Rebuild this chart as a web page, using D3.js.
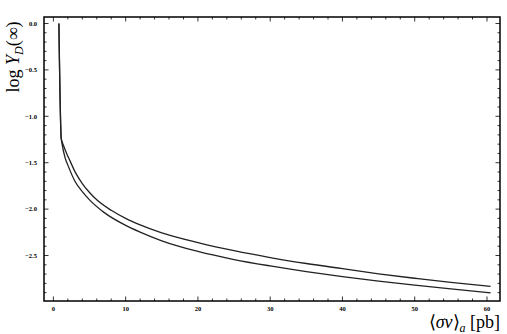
<!DOCTYPE html>
<html>
<head>
<meta charset="utf-8">
<script src="https://cdn.jsdelivr.net/npm/d3@7"></script>
<style>
  body { margin: 0; background: #fff; }
  svg { display: block; }
</style>
</head>
<body>
<svg id="chart" width="507" height="334"></svg>
<script>
// curve values
const upperX = [0.76, 1.08, 1.4, 1.8, 2.3, 3, 4, 5, 6, 8, 10, 12, 15, 20, 25, 30, 35, 40, 45, 50, 55, 60.5];
const upperY = [0.0, -1.235, -1.315, -1.395, -1.48, -1.599, -1.724, -1.821, -1.9, -2.013, -2.1, -2.17, -2.256, -2.361, -2.448, -2.522, -2.586, -2.642, -2.697, -2.745, -2.79, -2.832];
const lowerX = [0.76, 1.08, 1.18, 1.63, 2, 3, 4, 5, 7, 10, 12, 15, 20, 25, 30, 35, 40, 45, 50, 55, 60.5];
const lowerY = [0.0, -1.235, -1.289, -1.45, -1.526, -1.702, -1.812, -1.9, -2.035, -2.175, -2.247, -2.341, -2.456, -2.543, -2.612, -2.673, -2.727, -2.775, -2.819, -2.86, -2.902];

const xTicks = [0, 10, 20, 30, 40, 50, 60];
const yTicks = [0, -0.5, -1.0, -1.5, -2.0, -2.5];

const svg = d3.select('#chart');
const margin = { top: 17, right: 7, bottom: 33, left: 44 };
const width = +svg.attr('width');
const height = +svg.attr('height');

const xScale = d3.scaleLinear()
    .domain([-1.3, 61.8])
    .range([margin.left, width - margin.right]);

const yScale = d3.scaleLinear()
    .domain([-2.99, 0.07])
    .range([height - margin.bottom, margin.top]);

const x0 = xScale.range()[0], x1 = xScale.range()[1];
const y0 = yScale.range()[1], y1 = yScale.range()[0];

// minor ticks every 2 on x and 0.1 on y, drawn inward on all four sides
const xMinor = d3.range(0, 62, 2);
const yMinor = d3.range(-29, 1).map(d => d / 10);

const tickG = svg.append('g').attr('stroke', '#000').attr('stroke-width', 0.8);

xMinor.forEach(v => {
    const len = xTicks.includes(v) ? 4.5 : 2.5;
    const px = xScale(v);
    tickG.append('line').attr('x1', px).attr('x2', px).attr('y1', y1).attr('y2', y1 - len);
    tickG.append('line').attr('x1', px).attr('x2', px).attr('y1', y0).attr('y2', y0 + len);
});

yMinor.forEach(v => {
    const major = yTicks.some(t => Math.abs(t - v) < 1e-6);
    const len = major ? 4.5 : 2.5;
    const py = yScale(v);
    tickG.append('line').attr('x1', x0).attr('x2', x0 + len).attr('y1', py).attr('y2', py);
    tickG.append('line').attr('x1', x1).attr('x2', x1 - len).attr('y1', py).attr('y2', py);
});

// frame
svg.append('rect')
    .attr('x', x0)
    .attr('y', y0)
    .attr('width', x1 - x0)
    .attr('height', y1 - y0)
    .attr('fill', 'none')
    .attr('stroke', '#000')
    .attr('stroke-width', 1.5);

// tick labels
svg.append('g')
    .selectAll('text')
    .data(xTicks)
    .join('text')
    .attr('x', d => xScale(d))
    .attr('y', y1 + 10)
    .attr('text-anchor', 'middle')
    .attr('font-family', 'Liberation Serif, serif')
    .attr('font-weight', 'bold')
    .attr('font-size', 6.5)
    .text(d => d);

svg.append('g')
    .selectAll('text')
    .data(yTicks)
    .join('text')
    .attr('x', x0 - 7)
    .attr('y', d => yScale(d) + 2.2)
    .attr('text-anchor', 'end')
    .attr('font-family', 'Liberation Serif, serif')
    .attr('font-weight', 'bold')
    .attr('font-size', 6.5)
    .text(d => d3.format('.1f')(d).replace('-', '\u2212'));

// curves
const line = d3.line()
    .x(d => xScale(d[0]))
    .y(d => yScale(d[1]))
    .curve(d3.curveMonotoneX);

[[upperX, upperY], [lowerX, lowerY]].forEach(([xs, ys]) => {
    svg.append('path')
        .datum(xs.map((x, i) => [x, ys[i]]))
        .attr('fill', 'none')
        .attr('stroke', '#222')
        .attr('stroke-width', 1.3)
        .attr('d', line);
});

// axis titles
const yTitle = svg.append('text')
    .attr('transform', 'translate(19,57) rotate(-90)')
    .attr('text-anchor', 'middle')
    .attr('font-family', 'Liberation Serif, serif')
    .attr('font-size', 18);
yTitle.append('tspan').text('log ');
yTitle.append('tspan').attr('font-style', 'italic').text('Y');
yTitle.append('tspan').attr('font-style', 'italic').attr('font-size', 12).attr('dy', 4).text('D');
yTitle.append('tspan').attr('dy', -4).text('(\u221E)');

const xTitle = svg.append('text')
    .attr('x', 500)
    .attr('y', 328)
    .attr('text-anchor', 'end')
    .attr('font-family', 'Liberation Serif, serif')
    .attr('font-size', 18);
xTitle.append('tspan').text('\u27E8');
xTitle.append('tspan').attr('font-style', 'italic').text('\u03C3v');
xTitle.append('tspan').text('\u27E9');
xTitle.append('tspan').attr('font-style', 'italic').attr('font-size', 12).attr('dy', 4).text('a');
xTitle.append('tspan').attr('dy', -4).text(' [pb]');
</script>
</body>
</html>
